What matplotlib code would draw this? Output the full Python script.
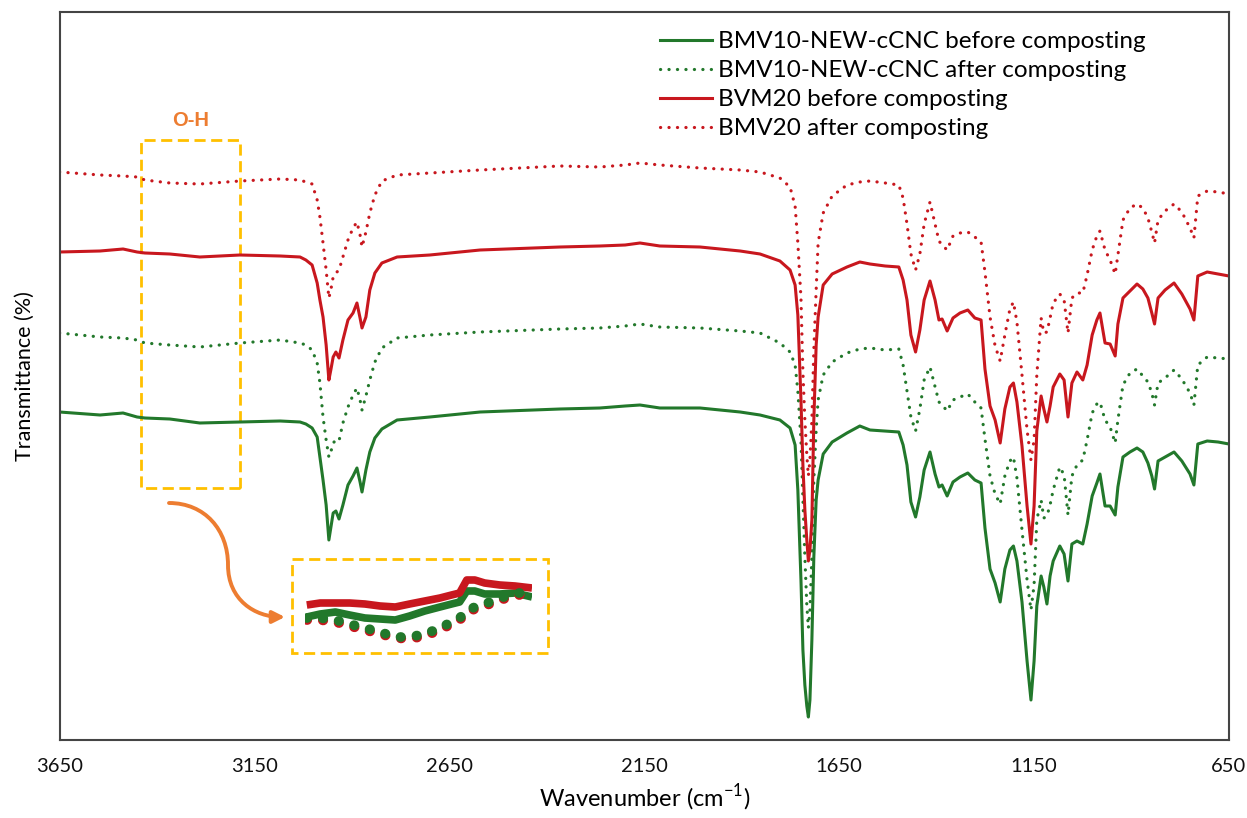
import matplotlib
matplotlib.use("Agg")
import matplotlib.pyplot as plt
from matplotlib.patches import Rectangle, FancyArrowPatch
from matplotlib.path import Path
from matplotlib.transforms import Affine2D

plt.rcParams['font.family'] = ['Lato', 'DejaVu Sans']
plt.rcParams['mathtext.fontset'] = 'custom'
plt.rcParams['mathtext.rm'] = 'Lato'

# ---------------- FTIR spectra (offset transmittance, arbitrary units) ----------------
wavenumber = [3650, 3546, 3487, 3451, 3431, 3367, 3290, 3187, 3084, 3033,
              3018, 3002, 2989, 2982, 2974, 2966, 2959, 2954, 2948, 2941,
              2933, 2923, 2910, 2897, 2887, 2879, 2874, 2864, 2854, 2841,
              2823, 2784, 2700, 2571, 2366, 2264, 2199, 2161, 2110, 2007,
              1904, 1853, 1802, 1776, 1763, 1756, 1748, 1743, 1738, 1733,
              1729, 1725, 1720, 1715, 1709, 1704, 1691, 1668, 1630, 1597,
              1571, 1532, 1497, 1486, 1476, 1466, 1454, 1443, 1432, 1417,
              1404, 1394, 1386, 1373, 1358, 1340, 1320, 1302, 1286, 1276,
              1263, 1250, 1237, 1225, 1212, 1203, 1194, 1181, 1168, 1158,
              1150, 1143, 1132, 1125, 1117, 1109, 1101, 1084, 1073, 1063,
              1053, 1040, 1025, 1014, 1001, 989, 981, 968, 955, 942,
              935, 922, 904, 886, 871, 858, 848, 841, 832, 814,
              791, 771, 750, 740, 730, 706, 678, 650]

bmv10_before = [32.8, 32.5, 32.7, 32.3, 32.2, 32.1, 31.7, 31.8, 31.9, 31.8,
                31.6, 31.2, 30.3, 28.3, 26.0, 23.5, 20.0, 21.2, 22.7, 22.9,
                22.1, 23.5, 25.5, 26.4, 27.2, 25.8, 24.8, 27.0, 28.8, 30.2,
                31.1, 32.0, 32.3, 32.8, 33.1, 33.2, 33.4, 33.5, 33.2, 33.2,
                32.8, 32.5, 32.0, 31.2, 29.5, 25.0, 16.0, 9.0, 5.5, 3.4,
                2.3, 4.0, 10.0, 18.3, 24.0, 26.0, 28.6, 29.8, 30.7, 31.4,
                31.0, 30.9, 30.8, 29.5, 27.5, 23.8, 22.3, 24.3, 27.0, 28.8,
                26.6, 25.3, 25.5, 24.4, 25.8, 26.3, 26.7, 26.0, 25.7, 21.2,
                17.1, 15.7, 13.8, 17.1, 19.0, 19.4, 17.9, 13.8, 7.9, 4.0,
                7.9, 13.4, 16.4, 15.3, 13.6, 16.4, 17.9, 19.4, 18.6, 15.9,
                19.6, 19.9, 19.6, 21.6, 24.4, 25.7, 26.6, 23.4, 23.4, 22.5,
                25.3, 28.3, 28.8, 29.2, 28.8, 27.7, 26.4, 25.1, 27.9, 28.3,
                28.8, 27.9, 26.6, 25.5, 29.6, 29.9, 29.8, 29.6]

bmv10_after = [40.7, 40.3, 40.2, 40.0, 39.7, 39.5, 39.3, 39.7, 40.0, 39.7,
               39.5, 39.0, 37.7, 35.7, 32.3, 30.0, 28.3, 28.8, 29.7, 30.0,
               29.9, 31.7, 33.3, 34.5, 35.2, 34.0, 33.0, 34.4, 36.0, 37.8,
               39.2, 40.2, 40.5, 40.8, 41.1, 41.2, 41.4, 41.6, 41.3, 41.2,
               40.9, 40.7, 39.7, 38.8, 37.5, 34.9, 30.0, 24.0, 18.3, 13.5,
               11.2, 13.0, 18.3, 26.0, 31.0, 34.0, 36.5, 37.8, 38.7, 39.1,
               39.2, 39.0, 39.1, 37.5, 34.9, 32.3, 30.9, 33.1, 36.0, 37.3,
               35.3, 33.8, 33.5, 32.9, 34.0, 34.3, 34.6, 33.8, 33.2, 30.1,
               26.4, 24.6, 23.6, 26.4, 27.9, 28.3, 26.2, 21.0, 16.0, 13.0,
               15.5, 22.0, 24.0, 22.2, 22.4, 23.5, 25.0, 27.3, 26.5, 22.5,
               26.4, 27.5, 28.0, 30.0, 32.7, 33.6, 33.8, 32.0, 31.3, 29.7,
               32.0, 35.5, 36.7, 37.1, 36.4, 35.8, 34.7, 33.5, 35.7, 36.2,
               37.0, 36.1, 34.7, 33.5, 37.5, 38.3, 38.2, 38.1]

bvm20_before = [48.8, 48.9, 49.1, 48.8, 48.7, 48.6, 48.3, 48.5, 48.4, 48.3,
                48.0, 47.5, 45.7, 44.0, 42.3, 39.5, 36.0, 37.0, 38.3, 38.8,
                38.2, 40.0, 42.0, 42.7, 43.7, 42.2, 41.2, 42.3, 45.0, 46.7,
                47.7, 48.3, 48.5, 49.0, 49.3, 49.4, 49.5, 49.7, 49.4, 49.3,
                48.9, 48.6, 47.9, 47.0, 45.5, 42.5, 34.0, 27.5, 23.0, 20.0,
                17.9, 19.0, 22.0, 32.0, 39.5, 42.3, 45.5, 46.6, 47.3, 47.8,
                47.6, 47.4, 47.3, 46.0, 44.0, 40.5, 38.8, 41.0, 44.0, 45.9,
                44.0, 42.0, 42.1, 40.9, 42.2, 42.7, 43.0, 42.2, 42.0, 37.1,
                33.4, 32.0, 29.7, 33.1, 35.3, 35.7, 33.8, 29.4, 23.4, 19.6,
                23.4, 30.9, 34.4, 33.1, 31.8, 33.4, 35.3, 36.6, 36.0, 32.3,
                35.7, 36.8, 36.0, 37.5, 40.5, 42.0, 42.7, 39.7, 39.6, 38.4,
                41.6, 44.2, 44.9, 45.6, 45.1, 44.2, 42.7, 41.6, 44.2, 45.0,
                45.7, 44.6, 43.1, 42.0, 46.4, 46.8, 46.6, 46.4]

bmv20_after = [56.8, 56.5, 56.4, 56.3, 56.0, 55.7, 55.6, 55.9, 56.1, 56.0,
               55.8, 55.6, 54.0, 52.3, 49.7, 47.0, 44.2, 45.0, 46.3, 46.7,
               47.0, 48.3, 50.0, 51.2, 51.8, 50.5, 49.3, 50.8, 52.7, 54.5,
               55.9, 56.5, 56.7, 57.0, 57.4, 57.3, 57.5, 57.7, 57.5, 57.2,
               57.0, 56.8, 56.2, 55.3, 53.4, 49.7, 44.2, 36.8, 32.0, 28.5,
               26.4, 28.0, 32.0, 39.0, 45.0, 49.7, 52.7, 54.4, 55.5, 55.8,
               55.9, 55.7, 55.5, 54.2, 51.6, 48.6, 47.0, 48.6, 51.6, 53.8,
               51.6, 49.9, 49.5, 49.0, 50.4, 50.7, 50.8, 50.3, 49.8, 46.8,
               42.3, 39.4, 37.9, 40.5, 43.1, 43.8, 41.8, 36.5, 31.0, 28.0,
               30.0, 36.5, 42.2, 40.7, 40.8, 42.2, 43.7, 44.6, 44.0, 40.7,
               44.2, 44.7, 44.7, 46.5, 49.0, 50.4, 50.9, 49.0, 48.0, 46.6,
               48.5, 52.0, 53.2, 53.6, 53.2, 52.2, 50.8, 49.7, 52.0, 52.9,
               53.6, 52.8, 51.2, 50.2, 54.4, 54.9, 54.8, 54.6]

series_labels = ["BMV10-NEW-cCNC before composting",
                 "BMV10-NEW-cCNC after composting",
                 "BVM20 before composting",
                 "BMV20 after composting"]

xticks = [3650, 3150, 2650, 2150, 1650, 1150, 650]

# ---------------- magnified O-H region (own scale) ----------------
inset_wavenumber = [3439, 3424, 3407, 3391, 3374, 3357, 3340, 3324, 3307, 3290,
                    3277, 3268, 3260, 3251, 3240, 3223, 3206, 3187]
inset_bmv10_before = [3.3, 3.6, 3.8, 3.5, 3.2, 3.1, 3.0, 3.4, 3.9, 4.3,
                      4.6, 4.8, 5.9, 5.9, 5.6, 5.6, 5.7, 5.3]
inset_bmv10_after = [3.2, 3.2, 3.0, 2.6, 2.2, 1.8, 1.3, 1.3, 1.6, 2.2,
                     2.8, 3.2, 3.9, 4.3, 4.6, 5.2, 5.6, 6.0]
inset_bvm20_before = [4.5, 4.7, 4.7, 4.7, 4.6, 4.4, 4.3, 4.6, 4.9, 5.2,
                      5.5, 5.7, 7.0, 7.0, 6.7, 6.5, 6.4, 6.2]
inset_bmv20_after = [3.0, 3.0, 2.8, 2.4, 2.0, 1.6, 1.2, 1.1, 1.4, 2.0,
                     2.6, 3.0, 3.7, 4.1, 4.4, 5.0, 5.4, 5.8]

GREEN = "#22782b"
RED = "#c8171e"
GOLD = "#ffc000"
ORANGE = "#ed7d31"
DOT = (0, (0.05, 2.6))

W, H = 1247, 818
fig = plt.figure(figsize=(W / 100, H / 100), dpi=100)
ax = fig.add_axes([59.5 / W, 1 - 740 / H, (1229 - 59.5) / W, 728 / H])

ax.plot(wavenumber, bmv10_before, color=GREEN, lw=2.2, label=series_labels[0])
ax.plot(wavenumber, bmv10_after, color=GREEN, lw=2.3, linestyle=DOT,
        dash_capstyle='round', label=series_labels[1])
ax.plot(wavenumber, bvm20_before, color=RED, lw=2.2, label=series_labels[2])
ax.plot(wavenumber, bmv20_after, color=RED, lw=2.3, linestyle=DOT,
        dash_capstyle='round', label=series_labels[3])

ax.set_xlim(3650, 650)
ax.set_ylim(0, 72.8)
ax.set_xticks(xticks)
ax.set_xticklabels([str(t) for t in xticks])
ax.set_yticks([])
ax.tick_params(axis='x', length=0, pad=13, labelsize=14.5, labelcolor='#111111')
for sp in ax.spines.values():
    sp.set_color('#444444')
    sp.set_linewidth(1.5)

ax.set_xlabel("Wavenumber (cm$^{-1}$)", fontsize=17, labelpad=5)
ax.set_ylabel("Transmittance (%)", fontsize=15.5, labelpad=18)

leg = ax.legend(loc='upper left', bbox_to_anchor=(660 / W, 1 - 31 / H),
                bbox_transform=fig.transFigure, frameon=False, fontsize=17.5,
                handlelength=2.15, handletextpad=0.25, labelspacing=0.33,
                borderpad=0, borderaxespad=0)

# O-H region marker
ax.add_patch(Rectangle((3187, 25.2), 254, 34.8, fill=False, edgecolor=GOLD,
                       lw=2.0, linestyle=(0, (4, 2))))
ax.text(3314, 61.0, "O-H", color=ORANGE, fontsize=14.5, fontweight='bold',
        family=['Liberation Sans', 'DejaVu Sans'], ha='center', va='bottom')

# pixel-style transform (origin top-left) for the annotation elements
px = Affine2D().scale(1 / W, -1 / H).translate(0, 1) + fig.transFigure

fig.patches.append(Rectangle((292, 559), 256, 94, fill=False, edgecolor=GOLD,
                             lw=2.0, linestyle=(0, (4, 2)), transform=px))

verts = [(169, 503), (205, 503), (228, 530), (228, 565),
         (228, 600), (255, 617), (285, 617)]
codes = [Path.MOVETO, Path.CURVE4, Path.CURVE4, Path.CURVE4,
         Path.CURVE4, Path.CURVE4, Path.CURVE4]
arrow = FancyArrowPatch(path=Path(verts, codes), arrowstyle='-|>',
                        mutation_scale=18, lw=2.8, color=ORANGE, transform=px)
fig.patches.append(arrow)

# magnified view of the O-H band
ins = fig.add_axes([305 / W, 1 - 650 / H, 227 / W, 90 / H])
ins.set_xlim(3441, 3187)
ins.set_ylim(0, 9)
ins.axis('off')
ins.plot(inset_wavenumber, inset_bmv10_before, color=GREEN, lw=5.5,
         solid_capstyle='butt')
ins.plot(inset_wavenumber, inset_bvm20_before, color=RED, lw=5.5,
         solid_capstyle='butt')
ins.plot(inset_wavenumber, inset_bmv20_after, color=RED, lw=7,
         linestyle=(0, (0.05, 1.6)), dash_capstyle='round')
ins.plot(inset_wavenumber, inset_bmv10_after, color=GREEN, lw=7,
         linestyle=(0, (0.05, 1.6)), dash_capstyle='round')

fig.savefig("out.png", dpi=100)
